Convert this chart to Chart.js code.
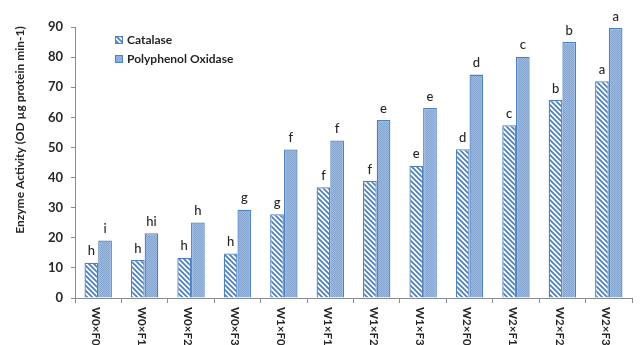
<!DOCTYPE html>
<html>
<head>
<meta charset="utf-8">
<script src="https://cdn.jsdelivr.net/npm/chart.js@4.4.1/dist/chart.umd.min.js"></script>
<style>
  body { margin: 0; background: #fff; }
  #wrap { width: 640px; height: 345px; }
</style>
</head>
<body>
<div id="wrap"><canvas id="enzymeChart"></canvas></div>
<script>
const treatments = ['W0×F0', 'W0×F1', 'W0×F2', 'W0×F3', 'W1×F0', 'W1×F1', 'W1×F2', 'W1×F3', 'W2×F0', 'W2×F1', 'W2×F2', 'W2×F3'];
const catalase = [11.7, 12.6, 13.4, 14.8, 27.8, 36.8, 38.9, 43.9, 49.4, 57.4, 65.8, 72.0];
const polyphenolOxidase = [19.1, 21.5, 25.1, 29.3, 49.3, 52.3, 59.1, 63.1, 74.2, 80.1, 85.0, 89.7];
const catalaseGroups = ['h', 'h', 'h', 'h', 'g', 'f', 'f', 'e', 'd', 'c', 'b', 'a'];
const oxidaseGroups = ['i', 'hi', 'h', 'g', 'f', 'f', 'e', 'e', 'd', 'c', 'b', 'a'];
const yTicks = [0, 10, 20, 30, 40, 50, 60, 70, 80, 90];

const blue = '#4F81BD';
const axisGrey = '#8c8c8c';
const textDark = '#262626';
const fontFamily = 'Lato, "Liberation Sans", sans-serif';

// diagonal "\" stripes on white
function stripePattern(ctx) {
  const t = document.createElement('canvas');
  t.width = 5; t.height = 5;
  const g = t.getContext('2d');
  g.fillStyle = '#fff';
  g.fillRect(0, 0, 5, 5);
  g.strokeStyle = blue;
  g.lineWidth = 1.8;
  g.beginPath();
  g.moveTo(-1, -1); g.lineTo(6, 6);
  g.moveTo(-1, 4); g.lineTo(1, 6);
  g.moveTo(4, -1); g.lineTo(6, 1);
  g.stroke();
  return ctx.createPattern(t, 'repeat');
}

// light blue with a fine dotted texture
function dotPattern(ctx) {
  const t = document.createElement('canvas');
  t.width = 2; t.height = 2;
  const g = t.getContext('2d');
  g.fillStyle = '#9DB9DC';
  g.fillRect(0, 0, 2, 2);
  g.fillStyle = '#86A6D0';
  g.fillRect(0, 0, 1, 1);
  g.fillRect(1, 1, 1, 1);
  return ctx.createPattern(t, 'repeat');
}

const canvas = document.getElementById('enzymeChart');
const ctx2d = canvas.getContext('2d');

const groupLetters = {
  id: 'groupLetters',
  afterDatasetsDraw(chart) {
    const ctx = chart.ctx;
    const letterSets = [catalaseGroups, oxidaseGroups];
    ctx.save();
    ctx.font = '500 13px ' + fontFamily;
    ctx.fillStyle = textDark;
    ctx.textAlign = 'center';
    ctx.textBaseline = 'bottom';
    chart.data.datasets.forEach((ds, d) => {
      chart.getDatasetMeta(d).data.forEach((bar, i) => {
        ctx.fillText(letterSets[d][i], bar.x, bar.y - 5);
      });
    });
    ctx.restore();
  }
};

const extras = {
  id: 'extras',
  afterDraw(chart) {
    const ctx = chart.ctx;
    const xs = chart.scales.x;

    // category labels, turned to read top to bottom
    ctx.save();
    ctx.font = 'bold 11.5px ' + fontFamily;
    ctx.fillStyle = textDark;
    ctx.textAlign = 'left';
    ctx.textBaseline = 'middle';
    treatments.forEach((t, i) => {
      ctx.save();
      ctx.translate(xs.getPixelForValue(i) - 3, xs.top + 9);
      ctx.rotate(Math.PI / 2);
      ctx.fillText(t, 0, 0);
      ctx.restore();
    });
    ctx.restore();

    // y axis title
    ctx.save();
    ctx.font = 'bold 12px ' + fontFamily;
    ctx.fillStyle = textDark;
    ctx.textAlign = 'center';
    ctx.textBaseline = 'middle';
    ctx.translate(20, 130);
    ctx.rotate(-Math.PI / 2);
    ctx.fillText('Enzyme Activity (OD µg protein min-1)', 0, 0);
    ctx.restore();

    // legend
    ctx.save();
    ctx.font = 'bold 12px ' + fontFamily;
    ctx.textBaseline = 'middle';
    ctx.textAlign = 'left';
    chart.data.datasets.forEach((ds, d) => {
      const y = 40 + d * 19;
      ctx.fillStyle = ds.backgroundColor;
      ctx.fillRect(115, y - 4, 8, 8);
      ctx.strokeStyle = blue;
      ctx.lineWidth = 1;
      ctx.strokeRect(115.5, y - 3.5, 7, 7);
      ctx.fillStyle = textDark;
      ctx.fillText(ds.label, 127, y);
    });
    ctx.restore();
  }
};

new Chart(canvas, {
  type: 'bar',
  data: {
    labels: treatments,
    datasets: [
      {
        label: 'Catalase',
        data: catalase,
        backgroundColor: stripePattern(ctx2d),
        borderColor: blue,
        borderWidth: 1.3
      },
      {
        label: 'Polyphenol Oxidase',
        data: polyphenolOxidase,
        backgroundColor: dotPattern(ctx2d),
        borderColor: blue,
        borderWidth: 1.3
      }
    ]
  },
  options: {
    responsive: true,
    maintainAspectRatio: false,
    animation: false,
    layout: { padding: { top: 27, right: 8, left: 0, bottom: 0 } },
    datasets: {
      bar: { categoryPercentage: 0.59, barPercentage: 1.0 }
    },
    plugins: {
      legend: { display: false },
      tooltip: { enabled: false }
    },
    scales: {
      x: {
        offset: true,
        grid: {
          display: true,
          drawOnChartArea: false,
          color: axisGrey,
          tickLength: 5,
          offset: true
        },
        border: { color: axisGrey, width: 1 },
        ticks: { display: false },
        afterFit(scale) { scale.height = 47; }
      },
      y: {
        min: 0,
        max: 90,
        afterBuildTicks(scale) { scale.ticks = yTicks.map(v => ({ value: v })); },
        grid: {
          display: true,
          drawOnChartArea: false,
          color: axisGrey,
          tickLength: 4
        },
        border: { color: axisGrey, width: 1 },
        ticks: {
          padding: 8,
          color: textDark,
          font: { family: fontFamily, size: 13, weight: 'bold' }
        },
        afterFit(scale) { scale.width = 75; }
      }
    }
  },
  plugins: [groupLetters, extras]
});
</script>
</body>
</html>
